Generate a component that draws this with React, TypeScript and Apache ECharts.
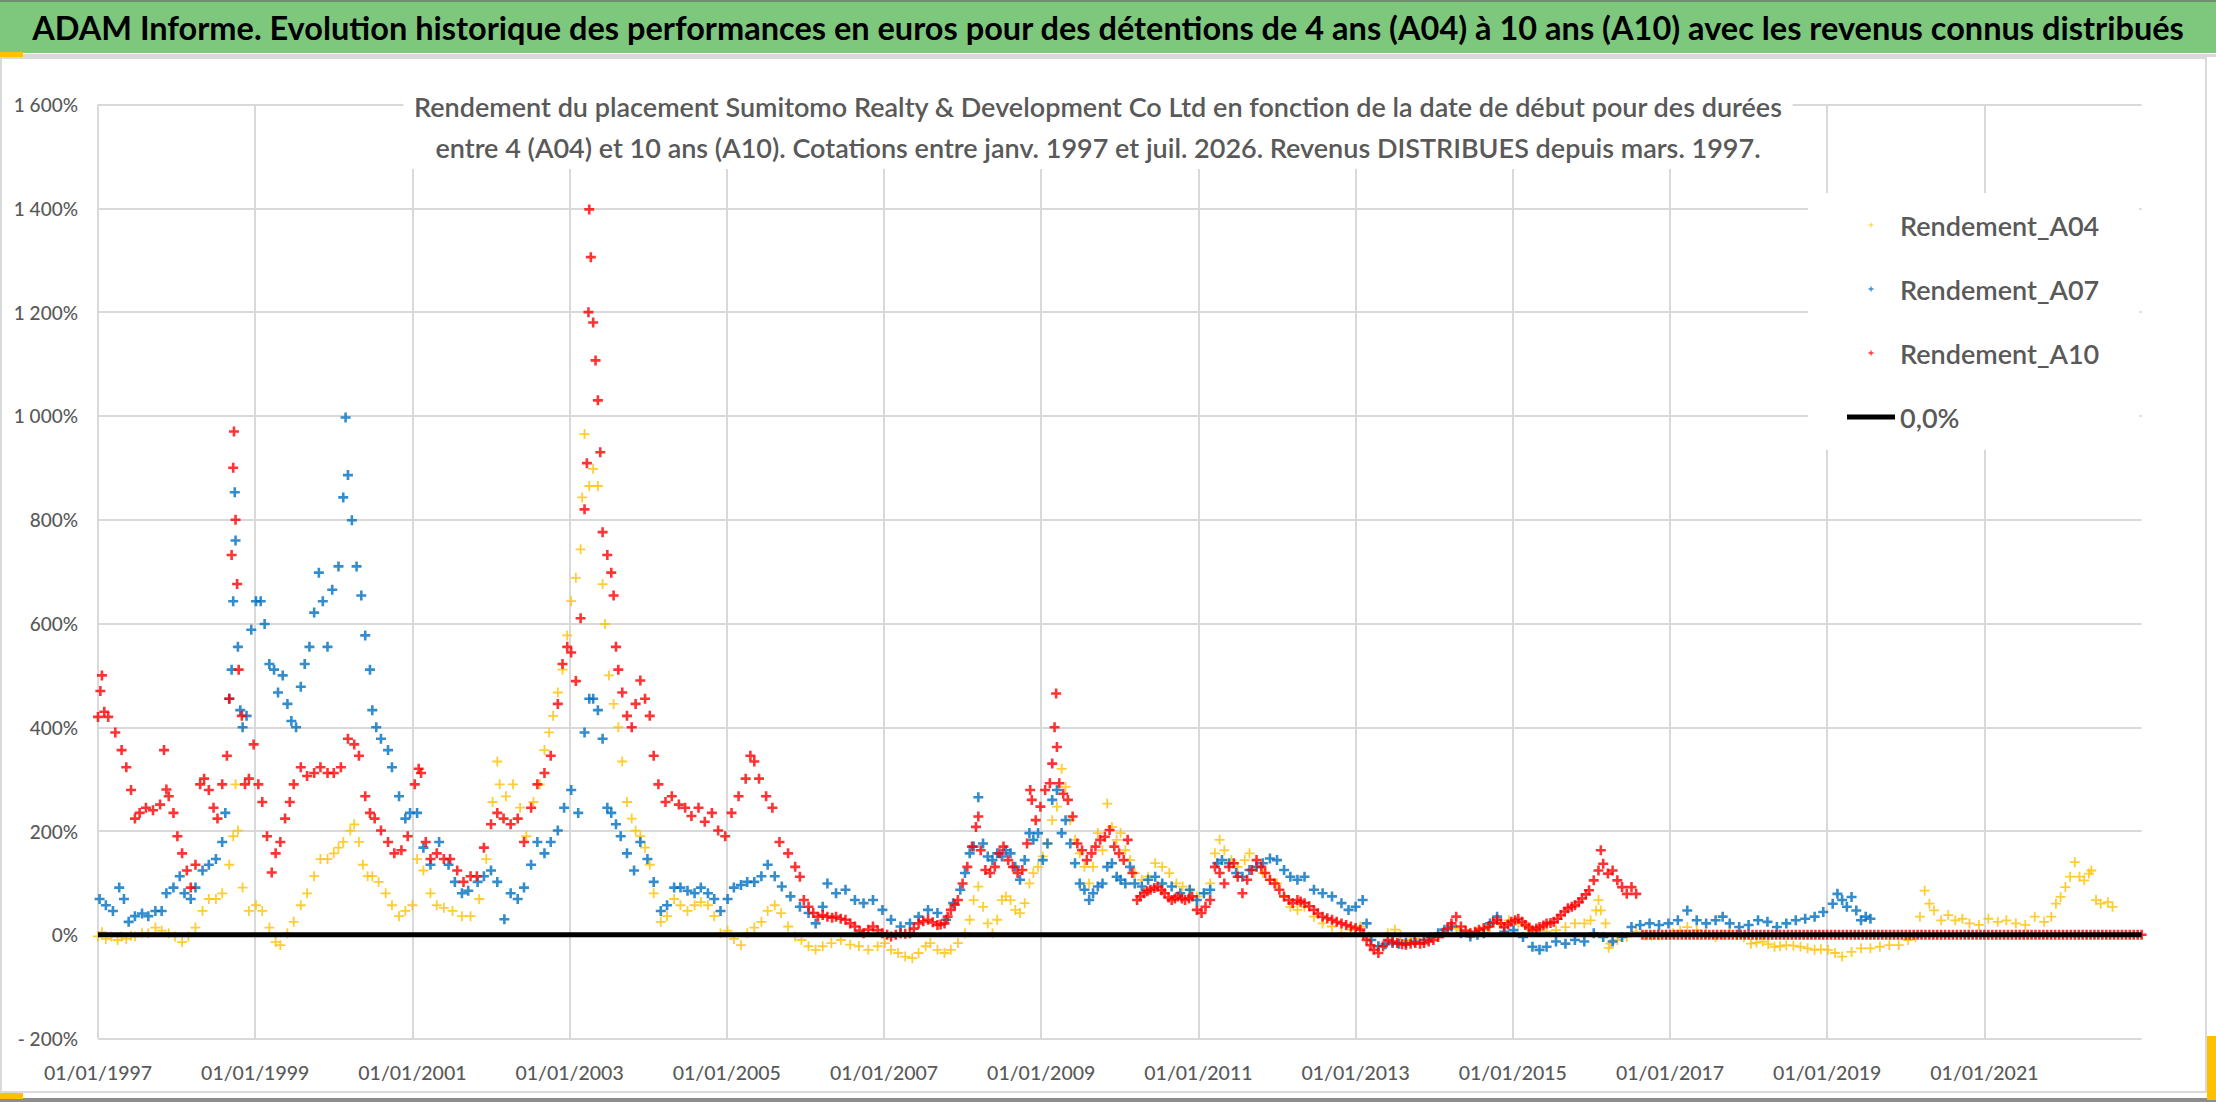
import React, { useEffect, useRef } from "react";
import * as echarts from "echarts";

// x values are decimal years, y values are returns in %
const X_START = 1997;
const X_END = 2023;

const MAIN_TITLE =
    "ADAM Informe. Evolution historique des performances en euros pour des détentions de 4 ans (A04) à 10 ans (A10) avec les revenus connus distribués";
const SUB_TITLE =
    "Rendement du placement Sumitomo Realty & Development Co Ltd en fonction de la date de début pour des durées\n" +
    "entre 4 (A04) et 10 ans (A10). Cotations entre janv. 1997 et juil. 2026. Revenus DISTRIBUES depuis mars. 1997.";

const SERIES_NAMES = ["Rendement_A04", "Rendement_A07", "Rendement_A10", "0,0%"];

const A04: [number, number][] = [
    [1997.00, -3], [1997.05, 5], [1997.10, -8], [1997.17, -3], [1997.25, -10], [1997.30, -3], [1997.36, -8], [1997.42, -2],
    [1997.47, -3], [1997.56, 3], [1997.64, 3], [1997.73, 14], [1997.81, 8], [1997.90, 3], [1997.98, -3], [1998.07, -14],
    [1998.15, -3], [1998.24, 14], [1998.33, 46], [1998.41, 69], [1998.50, 69], [1998.58, 80], [1998.67, 135], [1998.72, 190],
    [1998.75, 290], [1998.78, 201], [1998.84, 91], [1998.92, 46], [1999.01, 57], [1999.09, 46], [1999.18, 14], [1999.26, -14],
    [1999.32, -20], [1999.41, 3], [1999.49, 25], [1999.58, 57], [1999.66, 80], [1999.75, 113], [1999.83, 146], [1999.92, 146],
    [2000.00, 157], [2000.06, 168], [2000.12, 179], [2000.21, 201], [2000.26, 213], [2000.32, 179], [2000.37, 135], [2000.43, 113],
    [2000.49, 113], [2000.57, 102], [2000.66, 80], [2000.74, 57], [2000.83, 36], [2000.91, 46], [2001.00, 57], [2001.06, 146],
    [2001.14, 124], [2001.23, 80], [2001.31, 57], [2001.40, 52], [2001.51, 46], [2001.63, 36], [2001.74, 36], [2001.85, 69],
    [2001.94, 146], [2002.02, 256], [2002.08, 334], [2002.11, 290], [2002.19, 267], [2002.28, 290], [2002.37, 245], [2002.45, 190],
    [2002.54, 256], [2002.62, 290], [2002.68, 356], [2002.74, 390], [2002.79, 422], [2002.85, 467], [2002.91, 511], [2002.97, 577],
    [2003.02, 643], [2003.08, 688], [2003.14, 743], [2003.16, 843], [2003.19, 965], [2003.25, 865], [2003.30, 898], [2003.36, 865],
    [2003.42, 676], [2003.45, 599], [2003.50, 500], [2003.56, 445], [2003.62, 400], [2003.67, 334], [2003.73, 256], [2003.79, 224],
    [2003.84, 201], [2003.90, 190], [2003.96, 168], [2004.02, 135], [2004.07, 80], [2004.16, 25], [2004.24, 36], [2004.33, 69],
    [2004.41, 57], [2004.50, 46], [2004.59, 57], [2004.67, 63], [2004.76, 57], [2004.84, 36], [2004.92, 3], [2005.01, 8],
    [2005.09, -8], [2005.18, -20], [2005.26, 3], [2005.35, 14], [2005.44, 25], [2005.52, 46], [2005.61, 57], [2005.69, 42],
    [2005.78, 16], [2005.87, -3], [2005.95, -10], [2006.04, -22], [2006.13, -29], [2006.22, -22], [2006.33, -16], [2006.45, -10],
    [2006.57, -19], [2006.68, -22], [2006.80, -29], [2006.92, -22], [2007.01, -16], [2007.09, -29], [2007.18, -35], [2007.27, -42],
    [2007.36, -45], [2007.44, -35], [2007.53, -22], [2007.59, -16], [2007.68, -29], [2007.77, -35], [2007.85, -29], [2007.94, -16],
    [2008.03, 3], [2008.09, 29], [2008.14, 67], [2008.20, 93], [2008.26, 54], [2008.32, 22], [2008.38, 3], [2008.44, 29],
    [2008.50, 67], [2008.55, 74], [2008.61, 67], [2008.67, 48], [2008.73, 42], [2008.79, 61], [2008.85, 99], [2008.90, 119],
    [2008.96, 131], [2009.02, 151], [2009.08, 176], [2009.14, 221], [2009.20, 247], [2009.26, 320], [2009.31, 285], [2009.37, 221],
    [2009.43, 183], [2009.49, 157], [2009.55, 131], [2009.61, 99], [2009.66, 131], [2009.72, 196], [2009.78, 163], [2009.84, 253],
    [2009.90, 208], [2009.96, 183], [2010.01, 196], [2010.07, 163], [2010.13, 144], [2010.19, 119], [2010.28, 106], [2010.36, 112],
    [2010.45, 138], [2010.54, 131], [2010.63, 119], [2010.72, 99], [2010.80, 93], [2010.89, 87], [2010.98, 74], [2011.07, 80],
    [2011.15, 99], [2011.21, 157], [2011.27, 183], [2011.33, 163], [2011.42, 144], [2011.50, 131], [2011.59, 144], [2011.65, 157],
    [2011.74, 131], [2011.82, 119], [2011.91, 106], [2012.00, 99], [2012.09, 74], [2012.17, 54], [2012.26, 48], [2012.35, 54],
    [2012.47, 35], [2012.58, 22], [2012.70, 16], [2012.82, 3], [2012.94, 10], [2013.06, 16], [2013.17, -3], [2013.29, -22],
    [2013.41, 3], [2013.50, 10], [2013.57, 0], [2013.64, -10], [2013.70, -12], [2013.76, -8], [2013.87, -10], [2013.95, -6],
    [2014.05, -3], [2014.13, 5], [2014.22, 16], [2014.28, 12], [2014.34, 8], [2014.40, 6], [2014.46, 3], [2014.54, 6],
    [2014.63, 10], [2014.71, 15], [2014.83, 22], [2014.95, 28], [2015.07, 22], [2015.19, 15], [2015.31, 9], [2015.43, 6],
    [2015.55, 9], [2015.67, 15], [2015.79, 22], [2015.91, 22], [2015.99, 28], [2016.06, 47], [2016.09, 67], [2016.12, 47],
    [2016.18, 22], [2016.22, -25], [2016.24, -17], [2016.33, -10], [2016.45, -4], [2016.57, 6], [2016.68, -1], [2016.77, -2],
    [2016.86, -1], [2016.95, 0], [2017.04, 3], [2017.13, 8], [2017.22, 15], [2017.34, 9], [2017.46, 2], [2017.58, -4],
    [2017.67, 0], [2017.76, 3], [2017.85, -1], [2017.94, -4], [2018.03, -17], [2018.10, -15], [2018.18, -13], [2018.25, -18],
    [2018.33, -23], [2018.40, -22], [2018.48, -20], [2018.57, -21], [2018.66, -23], [2018.75, -26], [2018.84, -29], [2018.92, -28],
    [2019.01, -29], [2019.10, -35], [2019.19, -42], [2019.31, -33], [2019.43, -26], [2019.55, -26], [2019.67, -23], [2019.79, -20],
    [2019.91, -20], [2020.03, -10], [2020.12, -4], [2020.18, 35], [2020.24, 85], [2020.30, 60], [2020.36, 47], [2020.45, 28],
    [2020.54, 38], [2020.63, 28], [2020.72, 31], [2020.81, 22], [2020.93, 19], [2021.05, 31], [2021.17, 25], [2021.28, 28],
    [2021.40, 22], [2021.52, 19], [2021.64, 35], [2021.76, 25], [2021.85, 35], [2021.91, 60], [2021.97, 73], [2022.03, 92],
    [2022.09, 112], [2022.15, 140], [2022.21, 112], [2022.27, 105], [2022.33, 118], [2022.36, 124], [2022.42, 67], [2022.48, 60],
    [2022.57, 63], [2022.63, 54],
];

const A07: [number, number][] = [
    [1997.02, 69], [1997.10, 57], [1997.19, 46], [1997.27, 91], [1997.33, 69], [1997.39, 25], [1997.47, 36], [1997.56, 41],
    [1997.64, 36], [1997.73, 46], [1997.81, 46], [1997.87, 80], [1997.96, 91], [1998.04, 113], [1998.10, 80], [1998.18, 69],
    [1998.24, 91], [1998.33, 124], [1998.41, 135], [1998.50, 146], [1998.58, 179], [1998.62, 235], [1998.67, 455], [1998.70, 511],
    [1998.72, 643], [1998.74, 853], [1998.75, 760], [1998.78, 555], [1998.81, 433], [1998.84, 400], [1998.89, 422], [1998.95, 588],
    [1999.01, 643], [1999.07, 643], [1999.12, 599], [1999.18, 522], [1999.24, 511], [1999.29, 467], [1999.35, 500], [1999.41, 445],
    [1999.46, 412], [1999.52, 400], [1999.58, 478], [1999.63, 522], [1999.69, 555], [1999.75, 621], [1999.81, 698], [1999.86, 643],
    [1999.92, 555], [1999.98, 665], [2000.06, 710], [2000.12, 843], [2000.15, 997], [2000.18, 886], [2000.23, 799], [2000.29, 710],
    [2000.35, 654], [2000.40, 577], [2000.46, 511], [2000.49, 433], [2000.54, 400], [2000.60, 378], [2000.69, 356], [2000.74, 323],
    [2000.83, 267], [2000.91, 224], [2000.97, 235], [2001.06, 235], [2001.14, 168], [2001.23, 135], [2001.34, 179], [2001.46, 135],
    [2001.54, 102], [2001.63, 80], [2001.71, 85], [2001.83, 102], [2001.91, 113], [2002.00, 124], [2002.08, 102], [2002.17, 30],
    [2002.25, 80], [2002.34, 69], [2002.42, 91], [2002.51, 135], [2002.59, 179], [2002.68, 157], [2002.76, 179], [2002.85, 201],
    [2002.93, 245], [2003.02, 279], [2003.11, 235], [2003.19, 390], [2003.25, 455], [2003.30, 455], [2003.36, 433], [2003.42, 378],
    [2003.48, 245], [2003.53, 235], [2003.59, 213], [2003.65, 190], [2003.73, 157], [2003.82, 124], [2003.90, 179], [2003.99, 146],
    [2004.07, 102], [2004.16, 46], [2004.24, 57], [2004.33, 91], [2004.41, 91], [2004.50, 85], [2004.59, 80], [2004.67, 91],
    [2004.76, 80], [2004.84, 69], [2004.92, 46], [2005.01, 69], [2005.09, 91], [2005.18, 96], [2005.26, 102], [2005.35, 102],
    [2005.44, 113], [2005.52, 135], [2005.61, 113], [2005.70, 93], [2005.81, 74], [2005.93, 54], [2006.04, 42], [2006.13, 22],
    [2006.22, 54], [2006.28, 99], [2006.39, 80], [2006.51, 87], [2006.63, 67], [2006.74, 61], [2006.86, 67], [2006.98, 48],
    [2007.09, 29], [2007.21, 16], [2007.33, 22], [2007.44, 35], [2007.56, 48], [2007.68, 42], [2007.79, 29], [2007.88, 61],
    [2007.97, 87], [2008.03, 119], [2008.09, 157], [2008.14, 170], [2008.20, 265], [2008.26, 176], [2008.32, 151], [2008.38, 144],
    [2008.44, 157], [2008.50, 151], [2008.55, 163], [2008.61, 157], [2008.67, 131], [2008.73, 106], [2008.79, 144], [2008.85, 196],
    [2008.90, 183], [2008.96, 196], [2009.02, 144], [2009.08, 176], [2009.14, 260], [2009.20, 279], [2009.26, 196], [2009.31, 221],
    [2009.37, 176], [2009.43, 138], [2009.49, 99], [2009.55, 87], [2009.61, 67], [2009.66, 80], [2009.72, 93], [2009.78, 99],
    [2009.84, 131], [2009.90, 138], [2009.96, 112], [2010.01, 106], [2010.07, 99], [2010.13, 131], [2010.19, 99], [2010.28, 93],
    [2010.36, 106], [2010.45, 112], [2010.54, 99], [2010.66, 93], [2010.77, 80], [2010.89, 87], [2010.98, 67], [2011.07, 80],
    [2011.15, 87], [2011.24, 138], [2011.30, 144], [2011.39, 138], [2011.48, 119], [2011.56, 112], [2011.65, 125], [2011.74, 131],
    [2011.82, 138], [2011.91, 147], [2012.00, 144], [2012.09, 125], [2012.17, 112], [2012.26, 106], [2012.35, 112], [2012.47, 87],
    [2012.58, 80], [2012.70, 74], [2012.82, 61], [2012.91, 48], [2013.00, 54], [2013.09, 67], [2013.14, 22], [2013.20, -10],
    [2013.29, -22], [2013.38, -18], [2013.47, -16], [2013.55, -17], [2013.64, -16], [2013.75, -13], [2013.87, -10], [2013.96, -4],
    [2014.05, 3], [2014.13, 10], [2014.22, 16], [2014.34, 3], [2014.46, -3], [2014.55, 0], [2014.63, 3], [2014.71, 22],
    [2014.80, 35], [2014.89, 6], [2015.01, 9], [2015.13, -4], [2015.25, -23], [2015.34, -29], [2015.43, -23], [2015.55, -13],
    [2015.67, -17], [2015.79, -10], [2015.91, -13], [2016.03, 3], [2016.15, -4], [2016.27, -13], [2016.39, -4], [2016.51, 15],
    [2016.62, 19], [2016.74, 22], [2016.86, 19], [2016.98, 22], [2017.10, 28], [2017.22, 47], [2017.34, 28], [2017.46, 22],
    [2017.58, 28], [2017.67, 35], [2017.76, 22], [2017.88, 15], [2018.00, 19], [2018.12, 28], [2018.24, 25], [2018.36, 15],
    [2018.48, 22], [2018.60, 28], [2018.72, 31], [2018.84, 35], [2018.95, 44], [2019.07, 60], [2019.13, 79], [2019.19, 67],
    [2019.25, 54], [2019.31, 73], [2019.37, 47], [2019.43, 28], [2019.49, 35], [2019.55, 31],
];

const A10: [number, number][] = [
    [1997.00, 420], [1997.03, 470], [1997.05, 500], [1997.08, 430], [1997.13, 420], [1997.22, 390], [1997.30, 356], [1997.36, 323],
    [1997.42, 279], [1997.47, 224], [1997.53, 235], [1997.61, 245], [1997.70, 240], [1997.79, 251], [1997.84, 356], [1997.87, 280],
    [1997.90, 267], [1997.96, 235], [1998.01, 190], [1998.07, 157], [1998.13, 124], [1998.18, 91], [1998.24, 135], [1998.30, 290],
    [1998.35, 301], [1998.41, 279], [1998.47, 245], [1998.52, 224], [1998.58, 290], [1998.64, 345], [1998.67, 455], [1998.70, 732],
    [1998.72, 900], [1998.73, 970], [1998.75, 800], [1998.77, 676], [1998.79, 511], [1998.83, 422], [1998.87, 290], [1998.92, 301],
    [1998.98, 367], [1999.04, 290], [1999.09, 256], [1999.15, 190], [1999.21, 120], [1999.26, 157], [1999.32, 179], [1999.38, 224],
    [1999.44, 256], [1999.49, 290], [1999.58, 323], [1999.66, 306], [1999.75, 312], [1999.83, 323], [1999.92, 312], [2000.00, 312],
    [2000.09, 323], [2000.18, 378], [2000.26, 367], [2000.32, 345], [2000.40, 267], [2000.46, 235], [2000.52, 224], [2000.60, 201],
    [2000.69, 179], [2000.77, 157], [2000.86, 163], [2000.94, 190], [2001.03, 290], [2001.08, 320], [2001.11, 312], [2001.17, 179],
    [2001.23, 146], [2001.31, 157], [2001.40, 146], [2001.48, 146], [2001.57, 124], [2001.65, 102], [2001.74, 113], [2001.82, 113],
    [2001.91, 168], [2002.00, 213], [2002.08, 235], [2002.16, 224], [2002.25, 213], [2002.34, 224], [2002.42, 179], [2002.51, 245],
    [2002.59, 290], [2002.68, 312], [2002.76, 345], [2002.85, 445], [2002.91, 522], [2002.97, 555], [2003.02, 544], [2003.08, 489],
    [2003.14, 610], [2003.19, 820], [2003.22, 909], [2003.24, 1200], [2003.25, 1398], [2003.27, 1306], [2003.30, 1180], [2003.33, 1107],
    [2003.36, 1030], [2003.39, 930], [2003.42, 776], [2003.48, 732], [2003.53, 698], [2003.56, 654], [2003.59, 555], [2003.62, 511],
    [2003.67, 467], [2003.73, 422], [2003.79, 400], [2003.84, 445], [2003.90, 490], [2003.96, 455], [2004.02, 422], [2004.07, 345],
    [2004.13, 290], [2004.22, 256], [2004.30, 267], [2004.39, 251], [2004.47, 245], [2004.55, 229], [2004.64, 245], [2004.72, 218],
    [2004.81, 235], [2004.89, 201], [2004.98, 190], [2005.06, 235], [2005.15, 267], [2005.24, 301], [2005.30, 345], [2005.35, 334],
    [2005.41, 301], [2005.50, 267], [2005.58, 245], [2005.67, 179], [2005.78, 157], [2005.87, 131], [2005.93, 112], [2005.98, 67],
    [2006.04, 54], [2006.10, 42], [2006.16, 35], [2006.22, 38], [2006.28, 35], [2006.34, 33], [2006.39, 35], [2006.45, 31],
    [2006.51, 29], [2006.57, 22], [2006.63, 16], [2006.69, 8], [2006.74, 3], [2006.80, 10], [2006.86, 16], [2006.92, 9],
    [2006.98, 3], [2007.04, 0], [2007.09, -3], [2007.15, 0], [2007.21, 3], [2007.27, 2], [2007.33, 3], [2007.38, 12],
    [2007.44, 22], [2007.50, 26], [2007.56, 29], [2007.62, 24], [2007.68, 19], [2007.72, 20], [2007.77, 22], [2007.81, 35],
    [2007.85, 48], [2007.90, 58], [2007.94, 67], [2008.00, 99], [2008.06, 131], [2008.12, 170], [2008.17, 208], [2008.20, 228],
    [2008.23, 163], [2008.29, 125], [2008.35, 119], [2008.41, 131], [2008.47, 157], [2008.52, 170], [2008.58, 144], [2008.64, 131],
    [2008.70, 119], [2008.76, 125], [2008.82, 176], [2008.86, 279], [2008.88, 260], [2008.93, 221], [2008.99, 247], [2009.05, 279],
    [2009.11, 292], [2009.14, 330], [2009.17, 400], [2009.19, 465], [2009.20, 362], [2009.23, 292], [2009.28, 272], [2009.34, 260],
    [2009.40, 228], [2009.46, 176], [2009.52, 163], [2009.58, 144], [2009.64, 157], [2009.69, 170], [2009.75, 183], [2009.81, 189],
    [2009.87, 202], [2009.93, 170], [2009.99, 157], [2010.05, 144], [2010.10, 183], [2010.16, 119], [2010.22, 67], [2010.26, 74],
    [2010.31, 80], [2010.35, 84], [2010.39, 87], [2010.44, 90], [2010.48, 93], [2010.53, 86], [2010.57, 80], [2010.62, 72],
    [2010.66, 67], [2010.70, 70], [2010.74, 74], [2010.79, 70], [2010.83, 67], [2010.88, 70], [2010.92, 74], [2010.98, 48],
    [2011.04, 42], [2011.09, 54], [2011.15, 67], [2011.21, 131], [2011.27, 119], [2011.33, 99], [2011.39, 131], [2011.45, 138],
    [2011.50, 112], [2011.56, 80], [2011.62, 106], [2011.68, 125], [2011.74, 144], [2011.80, 131], [2011.85, 119], [2011.91, 106],
    [2011.97, 99], [2012.03, 87], [2012.09, 74], [2012.15, 67], [2012.20, 61], [2012.26, 67], [2012.30, 64], [2012.35, 61],
    [2012.41, 55], [2012.47, 48], [2012.52, 41], [2012.58, 35], [2012.64, 32], [2012.70, 29], [2012.76, 25], [2012.82, 22],
    [2012.88, 19], [2012.94, 16], [2013.00, 13], [2013.06, 10], [2013.10, 0], [2013.14, -10], [2013.19, -20], [2013.23, -29],
    [2013.29, -35], [2013.35, -22], [2013.41, -10], [2013.47, -13], [2013.53, -16], [2013.59, -18], [2013.64, -19], [2013.70, -17],
    [2013.76, -16], [2013.82, -17], [2013.87, -16], [2013.93, -13], [2013.99, -10], [2014.05, -4], [2014.11, 3], [2014.17, 12],
    [2014.22, 22], [2014.28, 35], [2014.34, 16], [2014.40, 8], [2014.46, 3], [2014.52, 6], [2014.57, 10], [2014.63, 13],
    [2014.69, 16], [2014.75, 24], [2014.80, 29], [2014.85, 22], [2014.89, 15], [2014.94, 20], [2014.98, 25], [2015.03, 28],
    [2015.07, 31], [2015.12, 25], [2015.16, 19], [2015.21, 14], [2015.25, 9], [2015.30, 12], [2015.34, 15], [2015.39, 18],
    [2015.43, 22], [2015.48, 23], [2015.52, 25], [2015.57, 31], [2015.61, 38], [2015.66, 45], [2015.70, 51], [2015.75, 54],
    [2015.79, 57], [2015.84, 63], [2015.88, 70], [2015.93, 78], [2015.97, 86], [2016.03, 105], [2016.09, 124], [2016.12, 163],
    [2016.15, 137], [2016.21, 118], [2016.27, 124], [2016.33, 105], [2016.39, 92], [2016.45, 79], [2016.51, 92], [2016.57, 79],
];

// A10 returns read as exactly 0 % after mid-2016
const A10_ZERO_DATES = [
    2016.65, 2016.70, 2016.75, 2016.80, 2016.85, 2016.90, 2016.95,
    2017.00, 2017.05, 2017.10, 2017.15, 2017.20, 2017.25, 2017.30, 2017.35, 2017.40, 2017.45,
    2017.50, 2017.55, 2017.60, 2017.65, 2017.70, 2017.75, 2017.80, 2017.85, 2017.90, 2017.95,
    2018.00, 2018.05, 2018.10, 2018.15, 2018.20, 2018.25, 2018.30, 2018.35, 2018.40, 2018.45,
    2018.50, 2018.55, 2018.60, 2018.65, 2018.70, 2018.75, 2018.80, 2018.85, 2018.90, 2018.95,
    2019.00, 2019.05, 2019.10, 2019.15, 2019.20, 2019.25, 2019.30, 2019.35, 2019.40, 2019.45,
    2019.50, 2019.55, 2019.60, 2019.65, 2019.70, 2019.75, 2019.80, 2019.85, 2019.90, 2019.95,
    2020.00, 2020.05, 2020.10, 2020.15, 2020.20, 2020.25, 2020.30, 2020.35, 2020.40, 2020.45,
    2020.50, 2020.55, 2020.60, 2020.65, 2020.70, 2020.75, 2020.80, 2020.85, 2020.90, 2020.95,
    2021.00, 2021.05, 2021.10, 2021.15, 2021.20, 2021.25, 2021.30, 2021.35, 2021.40, 2021.45,
    2021.50, 2021.55, 2021.60, 2021.65, 2021.70, 2021.75, 2021.80, 2021.85, 2021.90, 2021.95,
    2022.00, 2022.05, 2022.10, 2022.15, 2022.20, 2022.25, 2022.30, 2022.35, 2022.40, 2022.45,
    2022.50, 2022.55, 2022.60, 2022.65, 2022.70, 2022.75, 2022.80, 2022.85, 2022.90, 2022.95, 2023.00,
];

const ZERO_LINE: [number, number][] = [[1997, 0], [2023, 0]];

// "+" markers drawn as filled paths (10 x 10 units)
const CROSS_BOLD = "path://M3.7,0h2.6v3.7h3.7v2.6h-3.7v3.7h-2.6v-3.7h-3.7v-2.6h3.7z";
const CROSS_THIN = "path://M4.1,0h1.8v4.1h4.1v1.8h-4.1v4.1h-1.8v-4.1h-4.1v-1.8h4.1z";
const LINE_ICON = "path://M0,0h48v5h-48z";

const FONT = "Lato, 'Open Sans', sans-serif";
const GREY_TEXT = "#595959";
const GRID_COLOR = "#d9d9d9";

const shift = (pts: [number, number][]) => pts.map(([yr, v]) => [yr - X_START, v]);

const pctLabel = (v: number) => {
    const a = Math.abs(v);
    const body = a >= 1000 ? `${Math.floor(a / 1000)} ${String(a % 1000).padStart(3, "0")}` : String(a);
    return `${v < 0 ? "- " : ""}${body}%`;
};

const App: React.FC = () => {
    const chartRef = useRef<HTMLDivElement>(null);

    useEffect(() => {
        document.body.style.margin = "0";
        if (!chartRef.current) return;
        const chart = echarts.init(chartRef.current, undefined, { renderer: "svg" });

        const option: echarts.EChartsOption = {
            animation: false,
            backgroundColor: "#fff",
            graphic: [
                { type: "rect", shape: { x: 0, y: 0, width: 2216, height: 53 }, style: { fill: "#7ec87e" } },
                { type: "rect", shape: { x: 0, y: 0, width: 2216, height: 2 }, style: { fill: "#6d8f6d" } },
                { type: "rect", shape: { x: 0, y: 54, width: 2216, height: 3 }, style: { fill: "#dadada" } },
                { type: "rect", shape: { x: 0, y: 52, width: 23, height: 5 }, style: { fill: "#ffc000" } },
                {
                    type: "rect",
                    shape: { x: 1, y: 58, width: 2205, height: 1034 },
                    style: { fill: "none", stroke: GRID_COLOR, lineWidth: 2 }
                },
                { type: "rect", shape: { x: 0, y: 1098, width: 2216, height: 4 }, style: { fill: "#8c8c8c" } },
                { type: "rect", shape: { x: 0, y: 1093, width: 23, height: 6 }, style: { fill: "#ffc000" } },
                { type: "rect", shape: { x: 2207, y: 1036, width: 9, height: 64 }, style: { fill: "#ffc000" } }
            ],
            title: [
                {
                    text: MAIN_TITLE,
                    left: "center",
                    top: 9,
                    padding: 0,
                    textStyle: { fontFamily: FONT, fontWeight: "bold", fontSize: 32.5, lineHeight: 36, color: "#000" }
                },
                {
                    text: SUB_TITLE,
                    left: 1088,
                    top: 82,
                    textAlign: "center",
                    textVerticalAlign: "top",
                    padding: [4, 10, 1, 10],
                    backgroundColor: "#fff",
                    textStyle: { fontFamily: FONT, fontWeight: 600, fontSize: 27, lineHeight: 41, color: GREY_TEXT }
                }
            ],
            legend: {
                orient: "vertical",
                left: 1808,
                top: 193,
                padding: [15, 40, 16, 39],
                backgroundColor: "#fff",
                itemWidth: 48,
                itemHeight: 5,
                itemGap: 30,
                selectedMode: false,
                itemStyle: { borderWidth: 0 },
                textStyle: { fontFamily: FONT, fontWeight: 600, fontSize: 27, lineHeight: 34, color: GREY_TEXT },
                data: [
                    { name: SERIES_NAMES[0], icon: CROSS_THIN },
                    { name: SERIES_NAMES[1], icon: CROSS_BOLD },
                    { name: SERIES_NAMES[2], icon: CROSS_BOLD },
                    { name: SERIES_NAMES[3], icon: LINE_ICON }
                ]
            },
            grid: { left: 98, right: 74.4, top: 104.6, bottom: 63.4, containLabel: false },
            xAxis: {
                type: "value",
                min: 0,
                max: X_END - X_START,
                interval: 2,
                axisLine: { show: false },
                axisTick: { show: false },
                splitLine: { show: true, showMaxLine: false, lineStyle: { color: GRID_COLOR, width: 2 } },
                axisLabel: {
                    showMaxLabel: false,
                    margin: 24,
                    fontFamily: FONT,
                    fontWeight: 500,
                    fontSize: 19.5,
                    color: GREY_TEXT,
                    formatter: (v: number) => `01/01/${X_START + v}`
                }
            },
            yAxis: {
                type: "value",
                min: -200,
                max: 1600,
                interval: 200,
                axisLine: { show: false },
                axisTick: { show: false },
                splitLine: { show: true, lineStyle: { color: GRID_COLOR, width: 2 } },
                axisLabel: {
                    margin: 20,
                    fontFamily: FONT,
                    fontWeight: 500,
                    fontSize: 19,
                    color: GREY_TEXT,
                    formatter: pctLabel
                }
            },
            series: [
                {
                    name: SERIES_NAMES[3],
                    type: "line",
                    data: shift(ZERO_LINE),
                    symbol: "none",
                    color: "#000",
                    lineStyle: { color: "#000", width: 5 },
                    silent: true
                },
                {
                    name: SERIES_NAMES[0],
                    type: "scatter",
                    data: shift(A04),
                    symbol: CROSS_THIN,
                    symbolSize: 10,
                    itemStyle: { color: "#ffc000" },
                    silent: true
                },
                {
                    name: SERIES_NAMES[1],
                    type: "scatter",
                    data: shift(A07),
                    symbol: CROSS_BOLD,
                    symbolSize: 10,
                    itemStyle: { color: "#0070c0" },
                    silent: true
                },
                {
                    name: SERIES_NAMES[2],
                    type: "scatter",
                    data: [...shift(A10), ...A10_ZERO_DATES.map(d => [d - X_START, 0])],
                    symbol: CROSS_BOLD,
                    symbolSize: 10,
                    itemStyle: { color: "#ff0000" },
                    silent: true
                }
            ]
        };

        chart.setOption(option);

        return () => {
            chart.dispose();
        };
    }, []);

    return <div ref={chartRef} style={{ width: 2216, height: 1102 }} />;
};

export default App;
